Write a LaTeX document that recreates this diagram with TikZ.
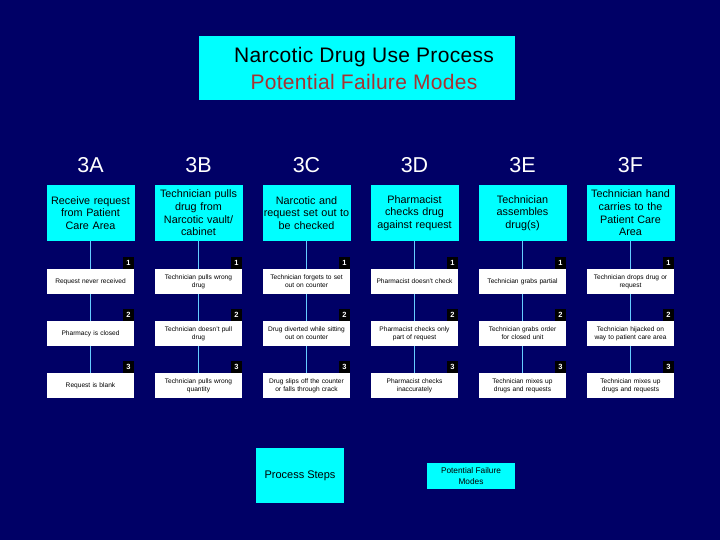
\documentclass[tikz,border=0pt]{standalone}
\usepackage{fontspec}
\setmainfont{Liberation Sans}
\definecolor{bg}{HTML}{000066}
\definecolor{cy}{HTML}{00FFFF}
\definecolor{ln}{HTML}{66CCFF}
\definecolor{tred}{HTML}{A83232}
\begin{document}
\begin{tikzpicture}[x=1pt,y=-1pt,
 proc/.style={fill=cy,minimum width=88pt,minimum height=56pt,inner sep=0pt,align=center,text width=87pt,font=\fontsize{10.8}{12.7}\selectfont},
 fail/.style={fill=white,minimum width=87pt,minimum height=25pt,inner sep=0pt,align=center,text width=86pt,font=\fontsize{6.6}{8}\selectfont},
 num/.style={fill=black,text=white,minimum width=11pt,minimum height=12pt,inner sep=0pt,font=\bfseries\fontsize{7.5}{8}\selectfont},
 head/.style={text=white,font=\fontsize{21.5}{24}\selectfont},
 conn/.style={draw=ln,line width=0.8pt}]
\useasboundingbox (0,0) rectangle (720,540);
\fill[bg] (0,0) rectangle (720,540);

% title
\node[fill=cy,minimum width=316pt,minimum height=64pt,inner sep=0pt] (title) at (357,68) {};
\node[align=center,font=\fontsize{21}{27}\selectfont\addfontfeatures{LetterSpace=1.5},inner sep=0pt] (ttext) at (364,68.5) {Narcotic Drug Use Process\\\textcolor{tred}{Potential Failure Modes}};

% headers
\node[head] (h1) at (90.5,165) {3A};
\node[head] (h2) at (198.5,165) {3B};
\node[head] (h3) at (306.5,165) {3C};
\node[head] (h4) at (414.5,165) {3D};
\node[head] (h5) at (522.5,165) {3E};
\node[head] (h6) at (630.5,165) {3F};

% process steps
\node[proc] (p1) at (90.5,213) {Receive request\\from Patient\\Care Area};
\node[proc] (p2) at (198.5,213) {Technician pulls\\drug from\\Narcotic vault/\\cabinet};
\node[proc] (p3) at (306.5,213) {Narcotic and\\request set out to\\be checked};
\node[proc] (p4) at (414.5,213) {Pharmacist\\checks drug\\against request};
\node[proc] (p5) at (522.5,213) {Technician\\assembles\\drug(s)};
\node[proc] (p6) at (630.5,213) {Technician hand\\carries to the\\Patient Care\\Area};

% failure modes
\node[fail] (f1a) at (90.5,281.5) {Request never received};
\node[fail] (f1b) at (90.5,333.5) {Pharmacy is closed};
\node[fail] (f1c) at (90.5,385.5) {Request is blank};
\node[fail] (f2a) at (198.5,281.5) {Technician pulls wrong\\drug};
\node[fail] (f2b) at (198.5,333.5) {Technician doesn't pull\\drug};
\node[fail] (f2c) at (198.5,385.5) {Technician pulls wrong\\quantity};
\node[fail] (f3a) at (306.5,281.5) {Technician forgets to set\\out on counter};
\node[fail] (f3b) at (306.5,333.5) {Drug diverted while sitting\\out on counter};
\node[fail] (f3c) at (306.5,385.5) {Drug slips off the counter\\or falls through crack};
\node[fail] (f4a) at (414.5,281.5) {Pharmacist doesn't check};
\node[fail] (f4b) at (414.5,333.5) {Pharmacist checks only\\part of request};
\node[fail] (f4c) at (414.5,385.5) {Pharmacist checks\\inaccurately};
\node[fail] (f5a) at (522.5,281.5) {Technician grabs partial};
\node[fail] (f5b) at (522.5,333.5) {Technician grabs order\\for closed unit};
\node[fail] (f5c) at (522.5,385.5) {Technician mixes up\\drugs and requests};
\node[fail] (f6a) at (630.5,281.5) {Technician drops drug or\\request};
\node[fail] (f6b) at (630.5,333.5) {Technician hijacked on\\way to patient care area};
\node[fail] (f6c) at (630.5,385.5) {Technician mixes up\\drugs and requests};

% numbers and connectors
\foreach \i in {1,...,6}{
  \node[num,anchor=south east] (n\i a) at (f\i a.north east) {1};
  \node[num,anchor=south east] (n\i b) at (f\i b.north east) {2};
  \node[num,anchor=south east] (n\i c) at (f\i c.north east) {3};
  \draw[conn] (p\i) -- (f\i a);
  \draw[conn] (f\i a) -- (f\i b);
  \draw[conn] (f\i b) -- (f\i c);
}

% legend
\node[fill=cy,minimum width=88pt,minimum height=55pt,inner sep=0pt,font=\fontsize{11}{13}\selectfont] (lp) at (300,475.5) {Process Steps};
\node[fill=cy,minimum width=88pt,minimum height=26pt,inner sep=0pt,align=center,font=\fontsize{8.3}{11}\selectfont] (lf) at (471,476) {Potential Failure\\Modes};
\end{tikzpicture}
\end{document}
